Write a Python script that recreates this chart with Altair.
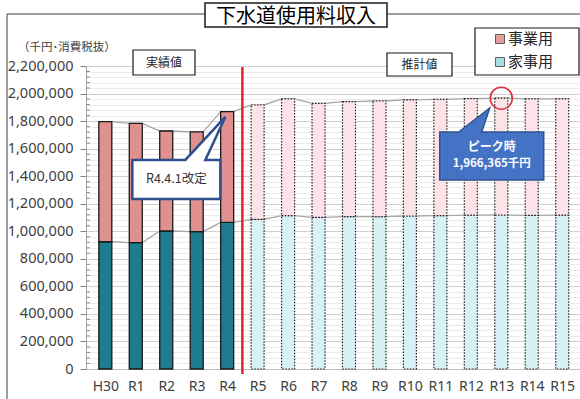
import json
import altair as alt
import pandas as pd

# ---------------- data ----------------
categories = ["H30", "R1", "R2", "R3", "R4", "R5", "R6", "R7", "R8",
              "R9", "R10", "R11", "R12", "R13", "R14", "R15"]
total_values = [1796000, 1784000, 1728000, 1721000, 1869000,
                1917000, 1961000, 1929000, 1941000, 1946000, 1954000,
                1958000, 1963000, 1966365, 1962000, 1961000]
household_values = [924000, 917000, 1002000, 997000, 1065000,
                    1087000, 1113000, 1101000, 1106000, 1106000, 1111000,
                    1113000, 1117000, 1118000, 1116000, 1117000]
n_actual = 5  # H30..R4 are actual values, R5.. are forecasts
y_major = list(range(0, 2200001, 200000))
y_minor = [v for v in range(0, 2200001, 40000) if v % 200000 != 0]

FONT_JP = "Noto Sans CJK JP"
FONT_NUM = "Noto Sans"

# ---------------- tables ----------------
idx = list(range(len(categories)))
phase = ["actual" if i < n_actual else "forecast" for i in idx]
bars = pd.DataFrame({"idx": idx, "cat": categories, "total": total_values,
                     "household": household_values, "phase": phase})

half = 6.5 / 31.09  # half bar width in category units (series lines join bar corners)
rows = []
for s, vals in (("total", total_values), ("household", household_values)):
    for i, v in enumerate(vals):
        rows.append({"series": s, "lx": i - half, "v": v})
        rows.append({"series": s, "lx": i + half, "v": v})
lines = pd.DataFrame(rows)

peak = max(total_values)
peak_idx = total_values.index(peak)

x_scale = alt.Scale(domain=[-0.47, 15.42], nice=False, zero=False)
y_scale = alt.Scale(domain=[0, 2200000], nice=False)

is_major = "datum.value % 200000 === 0"
y_axis = alt.Axis(
    values=list(range(0, 2200001, 40000)),
    labelExpr=f"{is_major} ? format(datum.value, ',') : ''",
    labelOverlap=False, labelFont=FONT_NUM, labelFontSize=14.5,
    labelColor="#404040", labelPadding=7, tickSize=6, tickColor="#808080",
    tickOpacity={"condition": {"test": is_major, "value": 1}, "value": 0},
    grid=True,
    gridColor={"condition": {"test": is_major, "value": "#cfcfcf"}, "value": "#ebebeb"},
    domainColor="#a6a6a6", title=None,
)
x_axis = alt.Axis(
    values=idx,
    labelExpr=f"{json.dumps(categories)}[datum.value]",
    labelFont=FONT_NUM, labelFontSize=14, labelColor="#404040",
    labelPadding=10, ticks=False, grid=False, labelFlush=False,
    domainColor="#bfbfbf", title=None,
)

X = lambda f: alt.X(f, scale=x_scale, axis=x_axis)
Y = lambda f: alt.Y(f, scale=y_scale, axis=y_axis)
one = pd.DataFrame({"k": [0]})


def box(x1, x2, y1, y2, sw=1.2):
    return alt.Chart(one).mark_rect(fill="white", stroke="#1a1a1a", strokeWidth=sw).encode(
        x=alt.value(x1), x2=alt.value(x2), y=alt.value(y1), y2=alt.value(y2))


def label(text, x, y, size, align="center", color="#262626"):
    return alt.Chart(one).mark_text(text=text, fontSize=size, font=FONT_JP, align=align,
                                    baseline="middle", color=color).encode(
        x=alt.value(x), y=alt.value(y))


# ---------------- layers ----------------
series_lines = alt.Chart(lines).mark_line(color="#a6a6a6", strokeWidth=1.3).encode(
    x=X("lx:Q"), y=Y("v:Q"), detail="series:N", order="lx:Q")

actual = alt.Chart(bars).transform_filter("datum.phase === 'actual'")
forecast = alt.Chart(bars).transform_filter("datum.phase === 'forecast'")

hh_actual = actual.mark_bar(size=13, fill="#1f7c90", stroke="#1a1a1a", strokeWidth=1.3).encode(
    x=X("idx:Q"), y=Y("household:Q"))
biz_actual = actual.mark_bar(size=13, fill="#e0918f", stroke="#1a1a1a", strokeWidth=1.3).encode(
    x=X("idx:Q"), y=Y("total:Q"), y2="household:Q")
hh_fc = forecast.mark_bar(size=13, fill="#d8f1f4", stroke="#222222", strokeWidth=1.2,
                          strokeDash=[1.5, 1.5]).encode(x=X("idx:Q"), y=Y("household:Q"))
biz_fc = forecast.mark_bar(size=13, fill="#fbe3e7", stroke="#222222", strokeWidth=1.2,
                           strokeDash=[1.5, 1.5]).encode(x=X("idx:Q"), y=Y("total:Q"), y2="household:Q")

frame = alt.Chart(one).mark_rect(fillOpacity=0, stroke="#404040", strokeWidth=1).encode(
    x=alt.value(-79), x2=alt.value(600), y=alt.value(-52), y2=alt.value(400))

minor_ticks = alt.Chart(pd.DataFrame({"v": y_minor})).mark_rule(
    color="#8c8c8c", strokeWidth=1).encode(x=alt.value(0), x2=alt.value(4), y=Y("v:Q"))

divider = alt.Chart(pd.DataFrame({"x": [n_actual - 0.5]})).mark_rule(
    color="#e3242b", strokeWidth=2.5).encode(x=X("x:Q"), y=alt.value(1), y2=alt.value(308))

peak_circle = alt.Chart(pd.DataFrame({"x": [peak_idx], "y": [peak]})).mark_point(
    shape="circle", size=484, filled=False, stroke="#d9363e", strokeWidth=1.6, opacity=1).encode(
    x=X("x:Q"), y=Y("y:Q"))

# callout "R4.4.1改定" (tip points to the R4 bar)
r4_tip = pd.DataFrame({"x": [n_actual - 1.06], "y": [1830000]})
r4_path = "M0,0 L-20,43 L-5,43 L-5,82 L-93,82 L-93,43 L-40,43 Z"
r4_callout = alt.Chart(r4_tip).mark_point(
    shape=r4_path, size=4, filled=True, fill="white", stroke="#2f4e8c", strokeWidth=2.5,
    opacity=1).encode(x=X("x:Q"), y=Y("y:Q"))
r4_text = alt.Chart(r4_tip).mark_text(
    text="R4.4.1改定", dx=-49, dy=62.5, fontSize=12.5, font=FONT_JP, color="#333333").encode(
    x=X("x:Q"), y=Y("y:Q"))

# callout for the peak
pk_tip = pd.DataFrame({"x": [peak_idx - 0.38], "y": [1895000]})
pk_path = "M0,0 L-8,24 L54,24 L54,72 L-50,72 L-50,24 L-31,24 Z"
pk_callout = alt.Chart(pk_tip).mark_point(
    shape=pk_path, size=4, filled=True, fill="#4472c4", stroke="#2f528f", strokeWidth=1.5,
    opacity=1).encode(x=X("x:Q"), y=Y("y:Q"))
pk_text1 = alt.Chart(pk_tip).mark_text(
    text="ピーク時", dx=2, dy=39, fontSize=12, font=FONT_JP, color="white",
    fontWeight="bold").encode(x=X("x:Q"), y=Y("y:Q"))
pk_text2 = alt.Chart(pk_tip).mark_text(
    text=f"{peak:,}千円", dx=2, dy=56, fontSize=11.5, font=FONT_JP, color="white",
    fontWeight="bold").encode(x=X("x:Q"), y=Y("y:Q"))

# boxes / labels
title_box = box(119, 301, -63, -39, sw=1.5)
title_text = label("下水道使用料収入", 210, -49.5, 20, color="#000000")
unit_text = label("（千円･消費税抜）", -68, -18, 11.5, align="left", color="#404040")
act_box = box(47, 109, -16, 9)
act_text = label("実績値", 78, -3.5, 12)
fc_box = box(301, 366, -13, 10)
fc_text = label("推計値", 333.5, -1.5, 12)
leg_box = box(389, 493, -38, 9)
leg_sq1 = alt.Chart(one).mark_square(size=81, fill="#e59d9b", stroke="#404040", strokeWidth=0.8,
                                     opacity=1).encode(x=alt.value(414), y=alt.value(-27))
leg_sq2 = alt.Chart(one).mark_square(size=81, fill="#a8dde2", stroke="#404040", strokeWidth=0.8,
                                     opacity=1).encode(x=alt.value(414), y=alt.value(-4))
leg_t1 = label("事業用", 422, -27, 15, align="left")
leg_t2 = label("家事用", 422, -4, 15, align="left")

chart = alt.layer(
    series_lines, hh_actual, biz_actual, hh_fc, biz_fc, frame, minor_ticks,
    divider, peak_circle, r4_callout, r4_text, pk_callout, pk_text1, pk_text2,
    title_box, title_text, unit_text, act_box, act_text, fc_box, fc_text,
    leg_box, leg_sq1, leg_sq2, leg_t1, leg_t2,
).properties(
    width=494, height=303,
    autosize=alt.AutoSizeParams(type="none"),
    padding={"left": 86, "top": 66, "right": 0, "bottom": 30},
    background="white",
).configure_view(strokeWidth=0)

chart.save("out.html", embed_options={"renderer": "svg", "actions": False})
